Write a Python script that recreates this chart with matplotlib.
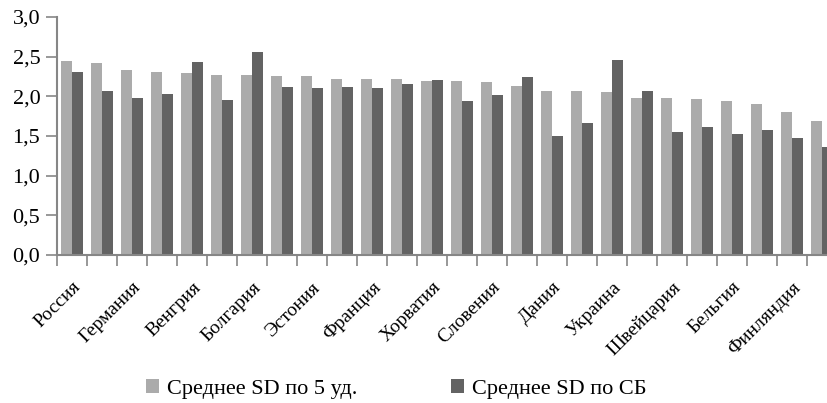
import matplotlib
matplotlib.use("Agg")
import matplotlib.pyplot as plt
import matplotlib.transforms as mtransforms
import numpy as np

# 26 countries, only every other name is printed on the axis
labels = ["Россия", "Германия", "Венгрия", "Болгария", "Эстония", "Франция",
          "Хорватия", "Словения", "Дания", "Украина", "Швейцария", "Бельгия",
          "Финляндия"]
sd_5 = [2.44, 2.42, 2.33, 2.31, 2.30, 2.27, 2.27, 2.26, 2.26, 2.22, 2.22, 2.22, 2.19,
        2.19, 2.18, 2.13, 2.07, 2.07, 2.06, 1.98, 1.98, 1.97, 1.94, 1.90, 1.80, 1.69]
sd_sb = [2.31, 2.07, 1.98, 2.03, 2.43, 1.96, 2.56, 2.12, 2.10, 2.12, 2.10, 2.15, 2.20,
         1.94, 2.02, 2.24, 1.50, 1.67, 2.46, 2.07, 1.55, 1.61, 1.53, 1.57, 1.47, 1.36]
yticks = [0.0, 0.5, 1.0, 1.5, 2.0, 2.5, 3.0]

FONT = 'Liberation Serif'
light = '#ababab'
dark = '#636363'
axis_col = '#868686'

fig = plt.figure(figsize=(8.28, 4.03), dpi=100)
ax = fig.add_axes([57 / 828, 1 - 255 / 403, 780 / 828, 238 / 403])

x = np.arange(len(sd_5))
w = 0.38
ax.bar(x - w / 2, sd_5, w, color=light, label='Среднее SD по 5 уд.')
ax.bar(x + w / 2, sd_sb, w, color=dark, label='Среднее SD по СБ')

ax.set_xlim(-0.5, len(sd_5) - 0.5)
ax.set_ylim(0, 3.0)
ax.set_yticks(yticks)
ax.set_yticklabels([f"{v:.1f}".replace('.', ',') for v in yticks],
                   family=FONT, fontsize=16)

# ticks between categories, names on every other category
ax.set_xticks(np.arange(-0.5, len(sd_5), 1.0))
ax.set_xticklabels([])
ax.set_xticks(np.arange(0, len(sd_5), 2), minor=True)
ax.set_xticklabels(labels, minor=True, rotation=45, ha='right',
                   family=FONT, fontsize=14)
ax.tick_params(axis='x', which='major', length=8, width=1.2, color=axis_col, direction='out')
ax.tick_params(axis='x', which='minor', length=0, pad=17)
ax.tick_params(axis='y', length=8, width=1.2, color=axis_col, pad=4)
shift = mtransforms.ScaledTranslation(12 / 100, 0, fig.dpi_scale_trans)
for t in ax.get_xticklabels(minor=True):
    t.set_transform(t.get_transform() + shift)

for s in ['top', 'right']:
    ax.spines[s].set_visible(False)
for s in ['left', 'bottom']:
    ax.spines[s].set_color(axis_col)
    ax.spines[s].set_linewidth(1.5)

fig.legend(loc='center', bbox_to_anchor=(396 / 828, 1 - 389 / 403), ncol=2,
           frameon=False, prop={'family': FONT, 'size': 16}, handlelength=0.6,
           handleheight=0.6, handletextpad=0.35, columnspacing=4.2)

fig.savefig('out.png', dpi=100)
